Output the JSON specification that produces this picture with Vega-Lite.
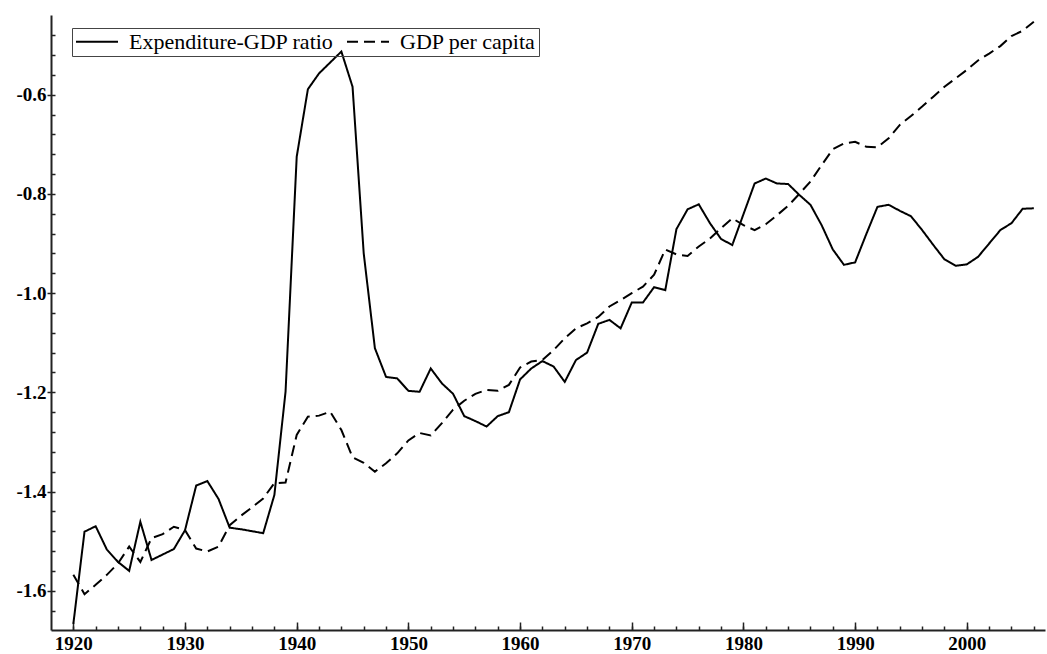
{
  "$schema": "https://vega.github.io/schema/vega-lite/v6.json",
  "width": 994,
  "height": 615,
  "autosize": {"type": "none"},
  "padding": {"left": 51, "top": 15, "right": 2, "bottom": 24},
  "background": "white",
  "config": {
    "view": {"stroke": null},
    "font": "Liberation Serif",
    "axis": {"grid": false, "title": null, "domainColor": "#222", "tickColor": "#222", "labelColor": "black", "labelFont": "Liberation Serif", "labelFontSize": 19, "labelFontWeight": "bold"}
  },
  "data": {
    "values": [
      {"year": 1920, "Expenditure-GDP ratio": -1.667, "GDP per capita": -1.568},
      {"year": 1921, "Expenditure-GDP ratio": -1.481, "GDP per capita": -1.607},
      {"year": 1922, "Expenditure-GDP ratio": -1.470, "GDP per capita": -1.588},
      {"year": 1923, "Expenditure-GDP ratio": -1.517, "GDP per capita": -1.568},
      {"year": 1924, "Expenditure-GDP ratio": -1.542, "GDP per capita": -1.545},
      {"year": 1925, "Expenditure-GDP ratio": -1.560, "GDP per capita": -1.511},
      {"year": 1926, "Expenditure-GDP ratio": -1.461, "GDP per capita": -1.542},
      {"year": 1927, "Expenditure-GDP ratio": -1.538, "GDP per capita": -1.494},
      {"year": 1928, "Expenditure-GDP ratio": -1.527, "GDP per capita": -1.486},
      {"year": 1929, "Expenditure-GDP ratio": -1.516, "GDP per capita": -1.471},
      {"year": 1930, "Expenditure-GDP ratio": -1.478, "GDP per capita": -1.478},
      {"year": 1931, "Expenditure-GDP ratio": -1.388, "GDP per capita": -1.515},
      {"year": 1932, "Expenditure-GDP ratio": -1.379, "GDP per capita": -1.521},
      {"year": 1933, "Expenditure-GDP ratio": -1.415, "GDP per capita": -1.511},
      {"year": 1934, "Expenditure-GDP ratio": -1.473, "GDP per capita": -1.468},
      {"year": 1935, "Expenditure-GDP ratio": -1.476, "GDP per capita": -1.449},
      {"year": 1936, "Expenditure-GDP ratio": -1.480, "GDP per capita": -1.432},
      {"year": 1937, "Expenditure-GDP ratio": -1.484, "GDP per capita": -1.414},
      {"year": 1938, "Expenditure-GDP ratio": -1.407, "GDP per capita": -1.383},
      {"year": 1939, "Expenditure-GDP ratio": -1.199, "GDP per capita": -1.382},
      {"year": 1940, "Expenditure-GDP ratio": -0.725, "GDP per capita": -1.286},
      {"year": 1941, "Expenditure-GDP ratio": -0.589, "GDP per capita": -1.249},
      {"year": 1942, "Expenditure-GDP ratio": -0.557, "GDP per capita": -1.247},
      {"year": 1943, "Expenditure-GDP ratio": -0.535, "GDP per capita": -1.239},
      {"year": 1944, "Expenditure-GDP ratio": -0.513, "GDP per capita": -1.276},
      {"year": 1945, "Expenditure-GDP ratio": -0.584, "GDP per capita": -1.331},
      {"year": 1946, "Expenditure-GDP ratio": -0.920, "GDP per capita": -1.342},
      {"year": 1947, "Expenditure-GDP ratio": -1.111, "GDP per capita": -1.360},
      {"year": 1948, "Expenditure-GDP ratio": -1.169, "GDP per capita": -1.343},
      {"year": 1949, "Expenditure-GDP ratio": -1.172, "GDP per capita": -1.323},
      {"year": 1950, "Expenditure-GDP ratio": -1.197, "GDP per capita": -1.297},
      {"year": 1951, "Expenditure-GDP ratio": -1.199, "GDP per capita": -1.282},
      {"year": 1952, "Expenditure-GDP ratio": -1.152, "GDP per capita": -1.287},
      {"year": 1953, "Expenditure-GDP ratio": -1.182, "GDP per capita": -1.262},
      {"year": 1954, "Expenditure-GDP ratio": -1.203, "GDP per capita": -1.235},
      {"year": 1955, "Expenditure-GDP ratio": -1.248, "GDP per capita": -1.217},
      {"year": 1956, "Expenditure-GDP ratio": -1.258, "GDP per capita": -1.203},
      {"year": 1957, "Expenditure-GDP ratio": -1.269, "GDP per capita": -1.195},
      {"year": 1958, "Expenditure-GDP ratio": -1.248, "GDP per capita": -1.197},
      {"year": 1959, "Expenditure-GDP ratio": -1.240, "GDP per capita": -1.185},
      {"year": 1960, "Expenditure-GDP ratio": -1.174, "GDP per capita": -1.150},
      {"year": 1961, "Expenditure-GDP ratio": -1.152, "GDP per capita": -1.138},
      {"year": 1962, "Expenditure-GDP ratio": -1.137, "GDP per capita": -1.135},
      {"year": 1963, "Expenditure-GDP ratio": -1.148, "GDP per capita": -1.115},
      {"year": 1964, "Expenditure-GDP ratio": -1.179, "GDP per capita": -1.091},
      {"year": 1965, "Expenditure-GDP ratio": -1.135, "GDP per capita": -1.071},
      {"year": 1966, "Expenditure-GDP ratio": -1.120, "GDP per capita": -1.061},
      {"year": 1967, "Expenditure-GDP ratio": -1.062, "GDP per capita": -1.048},
      {"year": 1968, "Expenditure-GDP ratio": -1.054, "GDP per capita": -1.027},
      {"year": 1969, "Expenditure-GDP ratio": -1.071, "GDP per capita": -1.014},
      {"year": 1970, "Expenditure-GDP ratio": -1.019, "GDP per capita": -1.000},
      {"year": 1971, "Expenditure-GDP ratio": -1.019, "GDP per capita": -0.987},
      {"year": 1972, "Expenditure-GDP ratio": -0.988, "GDP per capita": -0.963},
      {"year": 1973, "Expenditure-GDP ratio": -0.994, "GDP per capita": -0.912},
      {"year": 1974, "Expenditure-GDP ratio": -0.871, "GDP per capita": -0.922},
      {"year": 1975, "Expenditure-GDP ratio": -0.831, "GDP per capita": -0.925},
      {"year": 1976, "Expenditure-GDP ratio": -0.821, "GDP per capita": -0.906},
      {"year": 1977, "Expenditure-GDP ratio": -0.859, "GDP per capita": -0.890},
      {"year": 1978, "Expenditure-GDP ratio": -0.891, "GDP per capita": -0.869},
      {"year": 1979, "Expenditure-GDP ratio": -0.903, "GDP per capita": -0.849},
      {"year": 1980, "Expenditure-GDP ratio": -0.841, "GDP per capita": -0.863},
      {"year": 1981, "Expenditure-GDP ratio": -0.779, "GDP per capita": -0.873},
      {"year": 1982, "Expenditure-GDP ratio": -0.769, "GDP per capita": -0.861},
      {"year": 1983, "Expenditure-GDP ratio": -0.779, "GDP per capita": -0.843},
      {"year": 1984, "Expenditure-GDP ratio": -0.780, "GDP per capita": -0.824},
      {"year": 1985, "Expenditure-GDP ratio": -0.802, "GDP per capita": -0.800},
      {"year": 1986, "Expenditure-GDP ratio": -0.822, "GDP per capita": -0.775},
      {"year": 1987, "Expenditure-GDP ratio": -0.863, "GDP per capita": -0.742},
      {"year": 1988, "Expenditure-GDP ratio": -0.912, "GDP per capita": -0.710},
      {"year": 1989, "Expenditure-GDP ratio": -0.943, "GDP per capita": -0.698},
      {"year": 1990, "Expenditure-GDP ratio": -0.938, "GDP per capita": -0.695},
      {"year": 1991, "Expenditure-GDP ratio": -0.881, "GDP per capita": -0.705},
      {"year": 1992, "Expenditure-GDP ratio": -0.826, "GDP per capita": -0.706},
      {"year": 1993, "Expenditure-GDP ratio": -0.822, "GDP per capita": -0.688},
      {"year": 1994, "Expenditure-GDP ratio": -0.834, "GDP per capita": -0.661},
      {"year": 1995, "Expenditure-GDP ratio": -0.845, "GDP per capita": -0.643},
      {"year": 1996, "Expenditure-GDP ratio": -0.873, "GDP per capita": -0.624},
      {"year": 1997, "Expenditure-GDP ratio": -0.903, "GDP per capita": -0.604},
      {"year": 1998, "Expenditure-GDP ratio": -0.932, "GDP per capita": -0.584},
      {"year": 1999, "Expenditure-GDP ratio": -0.945, "GDP per capita": -0.567},
      {"year": 2000, "Expenditure-GDP ratio": -0.942, "GDP per capita": -0.550},
      {"year": 2001, "Expenditure-GDP ratio": -0.927, "GDP per capita": -0.531},
      {"year": 2002, "Expenditure-GDP ratio": -0.900, "GDP per capita": -0.517},
      {"year": 2003, "Expenditure-GDP ratio": -0.873, "GDP per capita": -0.502},
      {"year": 2004, "Expenditure-GDP ratio": -0.859, "GDP per capita": -0.482},
      {"year": 2005, "Expenditure-GDP ratio": -0.830, "GDP per capita": -0.471},
      {"year": 2006, "Expenditure-GDP ratio": -0.829, "GDP per capita": -0.453}
    ]
  },
  "transform": [
    {"fold": ["Expenditure-GDP ratio", "GDP per capita"], "as": ["series", "value"]}
  ],
  "layer": [
    {
      "mark": {"type": "line", "color": "black", "strokeWidth": 2},
      "encoding": {
        "x": {
          "field": "year", "type": "quantitative",
          "scale": {"domain": [1918, 2007], "nice": false, "zero": false},
          "axis": {"orient": "bottom", "values": [1920, 1930, 1940, 1950, 1960, 1970, 1980, 1990, 2000], "format": "d", "ticks": false, "domainWidth": 2, "labelPadding": 4, "labelFlush": false, "labelOverlap": false}
        },
        "y": {
          "field": "value", "type": "quantitative",
          "scale": {"domain": [-1.6792, -0.4393], "nice": false, "zero": false},
          "axis": {"orient": "left", "values": [-1.6, -1.4, -1.2, -1.0, -0.8, -0.6], "labelExpr": "replace(format(datum.value, '.1f'), '\u2212', '-')", "tickSize": 4, "tickWidth": 1.5, "labelPadding": 1, "domainWidth": 2, "labelFlush": false, "labelOverlap": false}
        },
        "strokeDash": {
          "field": "series", "type": "nominal",
          "scale": {"domain": ["Expenditure-GDP ratio", "GDP per capita"], "range": [[1, 0], [11, 6]]},
          "legend": {"title": null, "orient": "none", "legendX": 21, "legendY": 13, "direction": "horizontal", "symbolType": "stroke", "symbolSize": 1764, "clipHeight": 21, "symbolStrokeWidth": 2, "symbolStrokeColor": "black", "labelFont": "Liberation Serif", "labelFontSize": 22, "labelColor": "black", "labelOffset": 10, "columnPadding": 12, "padding": 3, "strokeColor": "#444", "labelLimit": 400}
        }
      }
    },
    {
      "mark": {"type": "point", "opacity": 0},
      "encoding": {
        "x": {
          "field": "year", "type": "quantitative",
          "axis": {"orient": "bottom", "values": [1920, 1922, 1924, 1926, 1928, 1930, 1932, 1934, 1936, 1938, 1940, 1942, 1944, 1946, 1948, 1950, 1952, 1954, 1956, 1958, 1960, 1962, 1964, 1966, 1968, 1970, 1972, 1974, 1976, 1978, 1980, 1982, 1984, 1986, 1988, 1990, 1992, 1994, 1996, 1998, 2000, 2002, 2004, 2006], "labels": false, "domain": false, "tickSize": -4, "tickWidth": 1.5}
        },
        "y": {
          "field": "value", "type": "quantitative",
          "axis": {"orient": "left", "values": [-1.64, -1.6, -1.56, -1.52, -1.48, -1.44, -1.4, -1.36, -1.32, -1.28, -1.24, -1.2, -1.16, -1.12, -1.08, -1.04, -1.0, -0.96, -0.92, -0.88, -0.84, -0.8, -0.76, -0.72, -0.68, -0.64, -0.6, -0.56, -0.52, -0.48], "labels": false, "domain": false, "tickSize": -4, "tickWidth": 1.5}
        }
      }
    },
    {
      "mark": {"type": "point", "opacity": 0},
      "encoding": {
        "x": {
          "field": "year", "type": "quantitative",
          "axis": {"orient": "bottom", "values": [1920, 1930, 1940, 1950, 1960, 1970, 1980, 1990, 2000], "labels": false, "domain": false, "tickSize": -8, "tickWidth": 1.5}
        },
        "y": {"field": "value", "type": "quantitative", "axis": null}
      }
    }
  ],
  "resolve": {"axis": {"x": "independent", "y": "independent"}}
}
